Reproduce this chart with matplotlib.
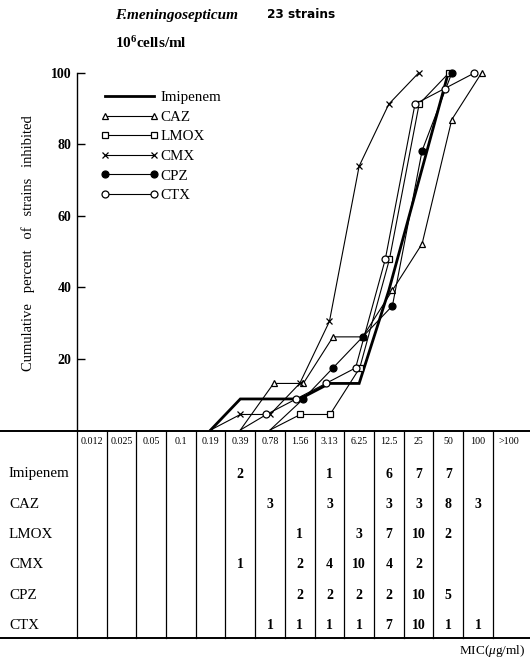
import numpy as np
import matplotlib
matplotlib.use("Agg")
import matplotlib.pyplot as plt

mic_labels = ["0.012", "0.025", "0.05", "0.1", "0.19", "0.39", "0.78", "1.56",
              "3.13", "6.25", "12.5", "25", "50", "100", ">100"]
drugs = ["Imipenem", "CAZ", "LMOX", "CMX", "CPZ", "CTX"]
imipenem = [0, 0, 0, 0, 0, 2, 0, 0, 1, 0, 6, 7, 7, 0, 0]
caz = [0, 0, 0, 0, 0, 0, 3, 0, 3, 0, 3, 3, 8, 3, 0]
lmox = [0, 0, 0, 0, 0, 0, 0, 1, 0, 3, 7, 10, 2, 0, 0]
cmx = [0, 0, 0, 0, 0, 1, 0, 2, 4, 10, 4, 2, 0, 0, 0]
cpz = [0, 0, 0, 0, 0, 0, 0, 2, 2, 2, 2, 10, 5, 0, 0]
ctx = [0, 0, 0, 0, 0, 0, 1, 1, 1, 1, 7, 10, 1, 1, 0]
n_strains = 23

counts = [imipenem, caz, lmox, cmx, cpz, ctx]

# --- Styles ---
styles = {
    "Imipenem": dict(marker="", lw=2.0, mfc="black", dx=0.0),
    "CAZ": dict(marker="^", lw=0.8, mfc="white", dx=0.12),
    "LMOX": dict(marker="s", lw=0.8, mfc="white", dx=0.02),
    "CMX": dict(marker="x", lw=0.8, mfc="black", dx=0.0),
    "CPZ": dict(marker="o", lw=0.8, mfc="black", dx=0.12),
    "CTX": dict(marker="o", lw=0.8, mfc="white", dx=-0.12),
}

SERIF = ["Liberation Serif", "DejaVu Serif"]
plt.rcParams["font.family"] = SERIF
plt.rcParams["mathtext.fontset"] = "custom"
plt.rcParams["mathtext.rm"] = "Liberation Serif"
plt.rcParams["mathtext.it"] = "Liberation Serif:italic"
plt.rcParams["mathtext.bf"] = "Liberation Serif:bold"

W, H = 530, 661
fig = plt.figure(figsize=(W / 100, H / 100), dpi=100)


def fx(px):
    return px / W


def fy(py):
    return 1 - py / H


x_left, x_right = 77, 530
col_w = 29.7
xmax = (x_right - x_left) / col_w
y100, y0 = 73, 430

# --- Main plot ---
ax = fig.add_axes([fx(x_left), fy(y0), fx(x_right - x_left), (y0 - y100) / H])
ax.set_xlim(0, xmax)
ax.set_ylim(0, 100)
for s in ["top", "right", "bottom"]:
    ax.spines[s].set_visible(False)
ax.spines["left"].set_linewidth(1.0)
ax.set_xticks([])
ax.set_yticks([20, 40, 60, 80, 100])
ax.set_yticklabels(["20", "40", "60", "80", "100"], fontsize=10,
                   fontweight="bold")
ax.tick_params(axis="y", direction="in", length=6, width=1.0, pad=4)

centers = np.arange(len(mic_labels)) + 0.5
for name, c in zip(drugs, counts):
    c = np.array(c)
    cum = np.cumsum(c) / n_strains * 100
    first = np.nonzero(c)[0][0]
    last = np.nonzero(np.cumsum(c) == n_strains)[0][0]
    idx = np.arange(first - 1, last + 1)
    st = styles[name]
    xs = centers[idx] + st["dx"]
    xs[0] = centers[idx[0]]
    ax.plot(xs, cum[idx], color="black", lw=st["lw"], marker=st["marker"],
            ms=5 if st["marker"] != "x" else 4.5, mfc=st["mfc"], mec="black",
            mew=0.9, markevery=list(range(1, len(idx))), label=name,
            clip_on=False, solid_joinstyle="miter")

leg = ax.legend(loc="upper left", bbox_to_anchor=(fx(100), fy(91)),
                bbox_transform=fig.transFigure, frameon=False, numpoints=2,
                handlelength=3.9, handletextpad=0.15, labelspacing=0.4,
                fontsize=10.8, borderaxespad=0, borderpad=0)

ax.set_ylabel("Cumulative   percent   of   strains   inhibited",
              fontsize=10.5, labelpad=12)
ax.yaxis.set_label_coords(-0.093, 0.524)

# --- Titles ---
fig.text(fx(115), fy(15), "F.meningosepticum", fontsize=11, style="italic",
         fontweight="bold", va="center", ha="left")
fig.text(fx(267), fy(15), "23 strains", fontsize=8.7, fontweight="bold",
         va="center", ha="left", family=["DejaVu Sans"])
fig.text(fx(115), fy(43), r"$\mathbf{10^{6}}$cells/ml", fontsize=11,
         fontweight="bold", va="center", ha="left")

# --- Table ---
t_top, t_bot = 431, 638
tab = fig.add_axes([fx(x_left), fy(t_bot), fx(x_right - x_left),
                    (t_bot - t_top) / H])
tab.set_xlim(0, xmax)
tab.set_ylim(t_bot, t_top)
tab.axis("off")

left_edge = -x_left / col_w
tab.plot([left_edge, xmax], [t_top, t_top], color="black", lw=1.4,
         clip_on=False)
tab.plot([left_edge, xmax], [t_bot, t_bot], color="black", lw=1.4,
         clip_on=False)
for i in range(len(mic_labels)):
    tab.plot([i, i], [t_top, t_bot], color="black", lw=0.9, clip_on=False)

header_y = 442
row_y0, row_step = 474, 30.3
hdr_centers = list(centers[:-1]) + [14.55]
for xc, lab in zip(hdr_centers, mic_labels):
    tab.text(xc, header_y, lab, ha="center", va="center", fontsize=7.2)

for r, (name, c) in enumerate(zip(drugs, counts)):
    yy = row_y0 + r * row_step
    tab.text(left_edge + 0.3, yy, name, ha="left", va="center", fontsize=10.8)
    for j, v in enumerate(c):
        if v:
            tab.text(hdr_centers[j], yy, str(v), ha="center", va="center",
                     fontsize=10, fontweight="bold")

fig.text(fx(525), fy(651), r"MIC($\mathit{\mu}$g/ml)", ha="right",
         va="center", fontsize=9.5)

fig.savefig("out.png", dpi=100)
